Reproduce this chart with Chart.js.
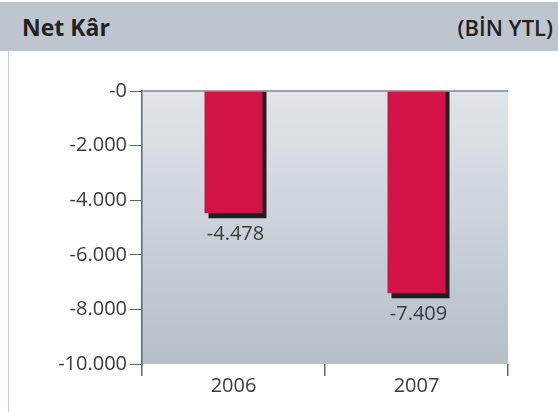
<!DOCTYPE html>
<html>
<head>
<meta charset="utf-8">
<script src="https://cdn.jsdelivr.net/npm/chart.js@4"></script>
<style>
  html, body { margin: 0; padding: 0; background: #fff; }
  #wrap { position: relative; width: 558px; height: 412px; overflow: hidden; }
  #head { position: absolute; left: 0; top: 2px; width: 558px; height: 49px; background: #bdc6ce; }
  #title { position: absolute; left: 22px; top: 9px; font: 700 23px "Open Sans", sans-serif; color: #222; }
  #unit { position: absolute; right: 5px; top: 10px; font: 600 22px "Open Sans", sans-serif; color: #222; }
  #side { position: absolute; left: 8px; top: 51px; width: 1px; height: 361px; background: #c6d0d9; }
  canvas { position: absolute; left: 0; top: 0; }
</style>
</head>
<body>
<div id="wrap">
  <div id="head"><span id="title">Net Kâr</span><span id="unit">(BİN YTL)</span></div>
  <div id="side"></div>
  <canvas id="chart" width="558" height="412"></canvas>
</div>
<script>
// Chart data
const years = ['2006', '2007'];
const netProfit = [-4478, -7409];
const yMin = -10000;
const yMax = 0;
const yStep = 2000;

const fontFamily = '"Open Sans", sans-serif';
const axisColor = '#5a6770';
const textColor = '#3a3a3a';

// "-2.000" style numbers, zero shown as "-0" like the original
function formatTick(v) {
    if (v === 0) return '-0';
    const s = Math.abs(v).toString().replace(/\B(?=(\d{3})+(?!\d))/g, '.');
    return (v < 0 ? '-' : '') + s;
}

// Gradient plot background and top rule
const plotBackground = {
    id: 'plotBackground',
    beforeDraw(chart) {
        const { ctx, chartArea: a } = chart;
        const g = ctx.createLinearGradient(0, a.top, 0, a.bottom);
        g.addColorStop(0, '#e1e5e9');
        g.addColorStop(1, '#b4bfc7');
        ctx.save();
        ctx.fillStyle = g;
        ctx.fillRect(a.left, a.top, a.right - a.left, a.bottom - a.top);
        ctx.restore();
    },
    afterDraw(chart) {
        const { ctx, chartArea: a } = chart;
        ctx.save();
        ctx.strokeStyle = '#7d8890';
        ctx.lineWidth = 1.5;
        ctx.beginPath();
        ctx.moveTo(a.left, a.top);
        ctx.lineTo(a.right, a.top);
        ctx.stroke();
        ctx.restore();
    }
};

// Dark offset shadow behind each bar, plus value labels under the bars
const barShadow = {
    id: 'barShadow',
    beforeDatasetsDraw(chart) {
        const { ctx } = chart;
        ctx.save();
        ctx.fillStyle = '#231f20';
        chart.getDatasetMeta(0).data.forEach(bar => {
            const p = bar.getProps(['x', 'y', 'base', 'width'], true);
            ctx.fillRect(p.x - p.width / 2 + 4, p.base, p.width, p.y - p.base + 5);
        });
        ctx.restore();
    },
    afterDatasetsDraw(chart) {
        const { ctx } = chart;
        ctx.save();
        ctx.fillStyle = textColor;
        ctx.font = '20px ' + fontFamily;
        ctx.textAlign = 'center';
        ctx.textBaseline = 'middle';
        chart.getDatasetMeta(0).data.forEach((bar, i) => {
            const p = bar.getProps(['x', 'y'], true);
            ctx.fillText(formatTick(netProfit[i]), p.x + 2, p.y + 21);
        });
        ctx.restore();
    }
};

new Chart(document.getElementById('chart'), {
    type: 'bar',
    data: {
        labels: years,
        datasets: [{
            data: netProfit,
            backgroundColor: '#d31245',
            borderWidth: 0,
            barPercentage: 1,
            categoryPercentage: 0.317
        }]
    },
    options: {
        responsive: false,
        animation: false,
        events: [],
        layout: { padding: { top: 91, right: 50, left: 0, bottom: 0 } },
        plugins: {
            legend: { display: false },
            tooltip: { enabled: false }
        },
        scales: {
            x: {
                grid: {
                    offset: true,
                    drawOnChartArea: false,
                    drawTicks: true,
                    tickLength: 12,
                    color: axisColor,
                    lineWidth: 1.5
                },
                border: { display: false },
                ticks: {
                    color: textColor,
                    font: { family: fontFamily, size: 20 },
                    padding: -2
                },
                afterFit(s) { s.height = 48; }
            },
            y: {
                min: yMin,
                max: yMax,
                ticks: {
                    stepSize: yStep,
                    color: textColor,
                    font: { family: fontFamily, size: 20 },
                    padding: 3,
                    callback: v => formatTick(v)
                },
                grid: {
                    drawOnChartArea: false,
                    drawTicks: true,
                    tickLength: 12,
                    color: axisColor,
                    lineWidth: 1
                },
                border: { display: true, color: axisColor, width: 1.5 },
                afterFit(s) { s.width = 142; }
            }
        }
    },
    plugins: [plotBackground, barShadow]
});
</script>
</body>
</html>
